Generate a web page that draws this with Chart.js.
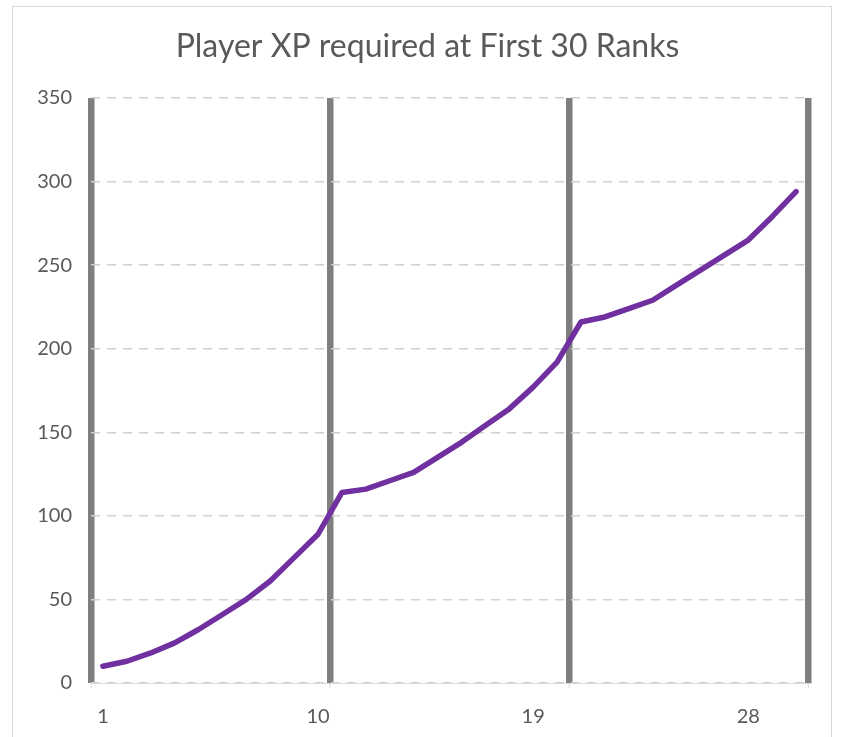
<!DOCTYPE html>
<html>
<head>
<meta charset="utf-8">
<title>Player XP required at First 30 Ranks</title>
<script src="https://cdn.jsdelivr.net/npm/chart.js@4.4.1/dist/chart.umd.min.js"></script>
<style>
  html, body { margin: 0; padding: 0; background: #ffffff; }
  #wrap { position: relative; width: 843px; height: 737px; overflow: hidden; }
  #frame {
    position: absolute; left: 12px; top: 6px; width: 820px; height: 760px;
    border: 1px solid #d9d9d9; box-sizing: border-box;
  }
  #chart { position: absolute; left: 0; top: 0; }
</style>
</head>
<body>
<div id="wrap">
  <div id="frame"></div>
  <canvas id="chart" width="843" height="737"></canvas>
</div>
<script>
// Rank numbers along the x axis
const ranks = [1, 2, 3, 4, 5, 6, 7, 8, 9, 10,
               11, 12, 13, 14, 15, 16, 17, 18, 19, 20,
               21, 22, 23, 24, 25, 26, 27, 28, 29, 30];

// XP required to reach each rank
const xpRequired = [10, 13, 18, 24, 32, 41, 50, 61, 75, 89,
                    114, 116, 121, 126, 135, 144, 154, 164, 177, 192,
                    216, 219, 224, 229, 238, 247, 256, 265, 279, 294];

// Ranks that carry a visible label, and the block size marked by the heavy dividers
const labelledRanks = [1, 10, 19, 28];
const blockSize = 10;

// Y axis range
const yMin = 0, yMax = 350, yStep = 50;

const FONT = 'Lato, "Open Sans", sans-serif';
const TEXT = '#595959';
const DIVIDER = '#7f7f7f';
const LIGHT = '#d9d9d9';

// A divider sits on every category boundary that starts a new block, and on the far edge.
function isDivider(ctx) {
  if (ctx.type !== 'tick') return true;
  return ctx.index % blockSize === 0;
}

new Chart(document.getElementById('chart'), {
  type: 'line',
  data: {
    labels: ranks.map(String),
    datasets: [{
      label: 'Player XP',
      data: xpRequired,
      borderColor: '#7030a0',
      backgroundColor: '#7030a0',
      borderWidth: 5.5,
      pointRadius: 0,
      pointHoverRadius: 0,
      tension: 0,
      borderCapStyle: 'round',
      borderJoinStyle: 'round',
      fill: false,
      yAxisID: 'y'
    }]
  },
  options: {
    responsive: false,
    animation: false,
    events: [],
    layout: { padding: { left: 12, right: 0, top: 0, bottom: 0 } },
    plugins: {
      legend: { display: false },
      tooltip: { enabled: false },
      title: {
        display: true,
        text: 'Player XP required at First 30 Ranks',
        color: TEXT,
        font: { family: FONT, size: 32, weight: 'normal' },
        padding: { top: 27, bottom: 32.6 }
      }
    },
    scales: {
      x: {
        type: 'category',
        offset: true,
        border: { display: true, color: LIGHT, width: 1 },
        grid: {
          offset: true,
          drawOnChartArea: true,
          drawTicks: true,
          tickLength: 5,
          color: ctx => isDivider(ctx) ? DIVIDER : 'rgba(0,0,0,0)',
          lineWidth: ctx => isDivider(ctx) ? 6.5 : 0,
          tickColor: ctx => isDivider(ctx) ? LIGHT : 'rgba(0,0,0,0)',
          tickWidth: 1
        },
        ticks: {
          autoSkip: false,
          maxRotation: 0,
          color: TEXT,
          padding: 17,
          font: { family: FONT, size: 20 },
          callback: function (value, index) {
            const r = ranks[index];
            return labelledRanks.includes(r) ? String(r) : '';
          }
        },
        afterFit: scale => { scale.height = 54; }
      },
      y: {
        position: 'left',
        min: yMin,
        max: yMax,
        border: { display: false, dash: [9, 7] },
        grid: {
          color: '#d0d0d0',
          lineWidth: 1.4,
          drawTicks: false
        },
        ticks: {
          stepSize: yStep,
          color: TEXT,
          padding: 19,
          font: { family: FONT, size: 20 }
        },
        afterFit: scale => { scale.width = 79; }
      },
      // empty right-hand margin inside the frame
      yRight: {
        position: 'right',
        display: true,
        border: { display: false },
        grid: { display: false, drawTicks: false },
        ticks: { display: false },
        afterFit: scale => { scale.width = 35; }
      }
    }
  }
});
</script>
</body>
</html>
